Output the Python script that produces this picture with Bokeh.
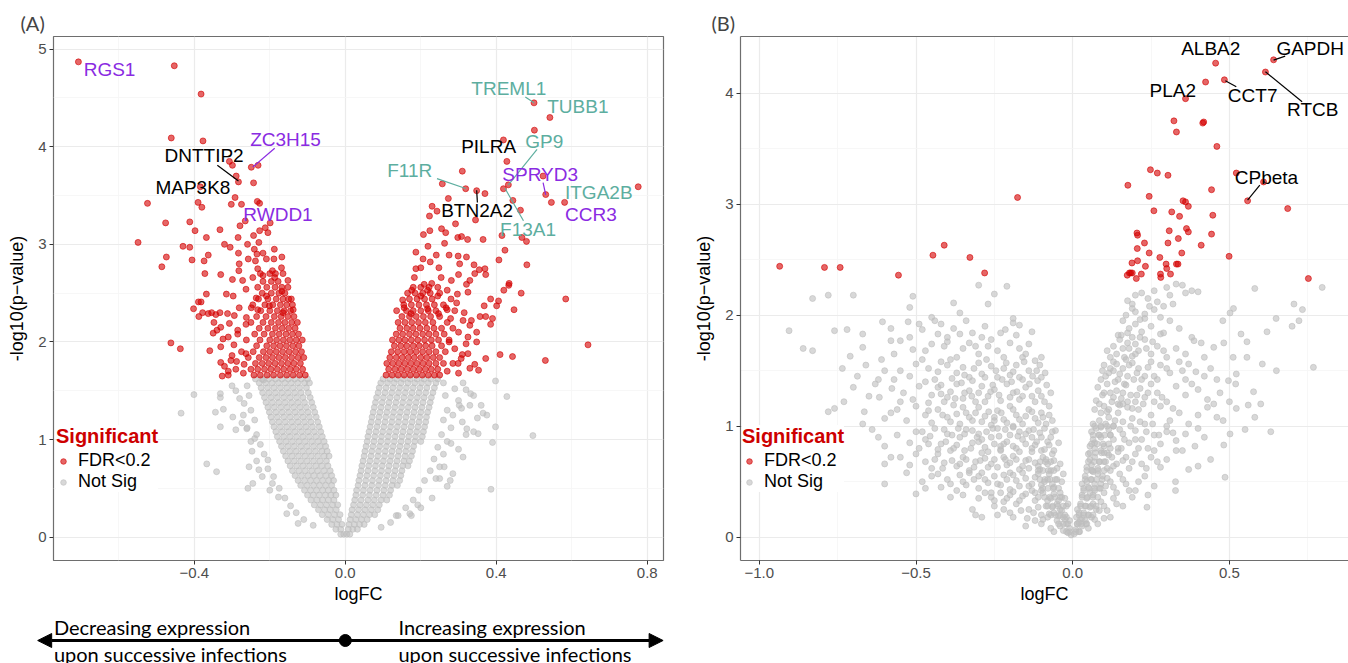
from bokeh.plotting import figure
from bokeh.layouts import row, column
from bokeh.models import (ColumnDataSource, Range1d, FixedTicker, Legend, LegendItem,
                          Arrow, NormalHead, LinearAxis)
from bokeh.embed import file_html
from bokeh.resources import INLINE
from bokeh.core.properties import value

FONT = "Liberation Sans"
SIG_COLOR = "#D40000"
NS_COLOR = "#BEBEBE"
PURPLE = "#8A2BE2"
TEAL = "#5DAE9F"

# ---------------- Panel A data ----------------
A_SIG_POINTS = [
    (-0.707, 4.87), (-0.453, 4.83), (-0.382, 4.54), (-0.461, 4.09), (-0.377, 4.06),
    (-0.307, 3.85), (-0.299, 3.81), (-0.249, 3.79), (-0.231, 3.81), (-0.283, 3.64), (-0.289, 3.70), (-0.243, 3.63), (-0.384, 3.59),
    (-0.292, 3.48), (-0.524, 3.42), (-0.390, 3.43), (-0.380, 3.38), (-0.302, 3.41), (-0.275, 3.41), (-0.233, 3.44), (-0.227, 3.42),
    (-0.476, 3.22), (-0.412, 3.23), (-0.279, 3.19), (-0.265, 3.24), (-0.212, 3.17), (-0.199, 3.22), (-0.398, 3.14), (-0.332, 3.15),
    (-0.227, 3.14), (-0.205, 3.12), (-0.243, 3.09), (-0.284, 3.07), (-0.549, 3.02), (-0.368, 3.07),
    (-0.430, 2.98), (-0.412, 2.97), (-0.320, 3.00), (-0.305, 2.97), (-0.259, 3.00), (-0.229, 3.02), (-0.241, 2.95), (-0.234, 2.90),
    (-0.218, 2.91), (-0.188, 2.95), (-0.474, 2.87), (-0.486, 2.77), (-0.406, 2.84), (-0.374, 2.83), (-0.363, 2.89), (-0.283, 2.91),
    (-0.257, 2.85), (-0.238, 2.83), (-0.209, 2.85), (-0.189, 2.85), (-0.168, 2.87), (-0.281, 2.80),
    (-0.372, 2.70), (-0.330, 2.69), (-0.282, 2.73), (-0.232, 2.75), (-0.193, 2.73), (-0.169, 2.76), (-0.299, 2.64), (-0.272, 2.63),
    (-0.245, 2.66), (-0.218, 2.68), (-0.187, 2.66), (-0.152, 2.63),
    (-0.368, 2.49), (-0.315, 2.49), (-0.297, 2.47), (-0.263, 2.54), (-0.236, 2.45), (-0.209, 2.47), (-0.168, 2.52), (-0.143, 2.44),
    (-0.382, 2.41), (-0.402, 2.34), (-0.388, 2.26), (-0.363, 2.29), (-0.343, 2.28), (-0.332, 2.30), (-0.312, 2.29), (-0.294, 2.27),
    (-0.281, 2.35), (-0.249, 2.35), (-0.232, 2.33), (-0.201, 2.37), (-0.165, 2.30), (-0.138, 2.33),
    (-0.348, 2.20), (-0.330, 2.15), (-0.307, 2.19), (-0.285, 2.08), (-0.263, 2.18), (-0.350, 2.09), (-0.324, 2.03), (-0.462, 1.99),
    (-0.437, 1.93), (-0.359, 1.91), (-0.330, 1.79), (-0.303, 1.81), (-0.288, 1.80), (-0.263, 1.88),
    (-0.326, 1.65), (-0.310, 1.66), (-0.389, 2.41), (-0.378, 2.30), (-0.354, 2.30),
    (-0.330, 1.95), (-0.310, 2.05), (-0.300, 1.86), (-0.290, 1.72), (-0.285, 2.12), (-0.275, 1.90), (-0.268, 1.77), (-0.262, 2.25),
    (-0.310, 1.70), (-0.295, 1.97), (-0.340, 2.12), (-0.320, 1.75), (-0.270, 1.68),
    (0.500, 4.45), (0.542, 4.30), (0.501, 4.17), (0.419, 4.07), (0.428, 3.85), (0.310, 3.75), (0.257, 3.62), (0.319, 3.57),
    (0.348, 3.55), (0.370, 3.52), (0.419, 3.57), (0.432, 3.61), (0.531, 3.51), (0.524, 3.70), (0.546, 3.43), (0.581, 3.43), (0.776, 3.59),
    (0.273, 3.47), (0.230, 3.39), (0.223, 3.29), (0.243, 3.34), (0.292, 3.21), (0.345, 3.25), (0.444, 3.45), (0.464, 3.35),
    (0.415, 3.09), (0.468, 3.07), (0.480, 3.03), (0.207, 3.10), (0.224, 3.14), (0.255, 3.16), (0.266, 3.12), (0.298, 3.07),
    (0.308, 3.08), (0.324, 3.05), (0.365, 3.05), (0.263, 3.01), (0.219, 2.98), (0.423, 2.94), (0.407, 2.84), (0.481, 2.79),
    (0.187, 2.92), (0.206, 2.85), (0.225, 2.82), (0.241, 2.89), (0.275, 2.89), (0.299, 2.88), (0.303, 2.80), (0.321, 2.87),
    (0.341, 2.79), (0.355, 2.74), (0.370, 2.75), (0.343, 2.70), (0.372, 2.69), (0.187, 2.75), (0.200, 2.76), (0.248, 2.76),
    (0.183, 2.66), (0.209, 2.59), (0.229, 2.60), (0.254, 2.66), (0.281, 2.63), (0.300, 2.69), (0.321, 2.59), (0.330, 2.63),
    (0.434, 2.60), (0.420, 2.53), (0.466, 2.50), (0.584, 2.44),
    (0.176, 2.53), (0.152, 2.43), (0.200, 2.47), (0.218, 2.53), (0.245, 2.47), (0.270, 2.53), (0.297, 2.49), (0.325, 2.51),
    (0.385, 2.44), (0.406, 2.42), (0.401, 2.37), (0.447, 2.33), (0.368, 2.37), (0.357, 2.26), (0.372, 2.26), (0.390, 2.24),
    (0.334, 2.22), (0.312, 2.22), (0.279, 2.24), (0.156, 2.35), (0.174, 2.29), (0.136, 2.32), (0.218, 2.34), (0.247, 2.29), (0.267, 2.35),
    (0.330, 2.17), (0.348, 2.10), (0.325, 2.05), (0.348, 2.00), (0.643, 1.97), (0.410, 1.87), (0.443, 1.85), (0.530, 1.81),
    (0.372, 1.83), (0.343, 1.77), (0.307, 1.83), (0.325, 1.88), (0.299, 1.78), (0.353, 1.71), (0.385, 2.18), (0.433, 2.58),
    (0.270, 1.70), (0.285, 1.78), (0.300, 1.68), (0.290, 1.93), (0.310, 1.87), (0.275, 2.00), (0.300, 2.10), (0.320, 1.98),
    (0.330, 1.73), (0.315, 2.30), (0.295, 2.40), (0.270, 2.33),
]

A_SIG_CORE_ROWS = [
    (1.66, [-0.242, -0.225, -0.207, -0.19, -0.172, -0.155, -0.138, -0.121, -0.106,
            0.108, 0.124, 0.14, 0.156, 0.172, 0.188, 0.204, 0.22, 0.236, 0.25]),
    (1.72, [-0.25, -0.232, -0.214, -0.197, -0.18, -0.163, -0.146, -0.13, -0.113,
            0.115, 0.132, 0.148, 0.164, 0.18, 0.196, 0.212, 0.228, 0.245]),
    (1.78, [-0.238, -0.22, -0.203, -0.186, -0.169, -0.152, -0.136, -0.119,
            0.11, 0.126, 0.142, 0.158, 0.174, 0.19, 0.206, 0.222, 0.24, 0.26]),
    (1.84, [-0.257, -0.228, -0.21, -0.193, -0.176, -0.159, -0.142, -0.125, -0.11,
            0.118, 0.135, 0.151, 0.167, 0.183, 0.2, 0.216, 0.233, 0.25]),
    (1.90, [-0.244, -0.217, -0.2, -0.183, -0.166, -0.149, -0.132, -0.116,
            0.122, 0.139, 0.156, 0.172, 0.188, 0.205, 0.222, 0.24, 0.265]),
    (1.96, [-0.235, -0.208, -0.19, -0.173, -0.156, -0.139, -0.123,
            0.13, 0.147, 0.163, 0.18, 0.196, 0.213, 0.23, 0.255]),
    (2.02, [-0.262, -0.226, -0.2, -0.182, -0.164, -0.147, -0.13, -0.114,
            0.125, 0.142, 0.158, 0.175, 0.192, 0.21, 0.228, 0.247, 0.275]),
    (2.08, [-0.24, -0.215, -0.193, -0.175, -0.157, -0.14, -0.124,
            0.135, 0.152, 0.17, 0.187, 0.205, 0.222, 0.24, 0.262]),
    (2.14, [-0.228, -0.205, -0.185, -0.167, -0.15, -0.133,
            0.145, 0.163, 0.18, 0.198, 0.216, 0.235, 0.255, 0.285]),
    (2.20, [-0.25, -0.218, -0.196, -0.177, -0.16, -0.142, -0.127,
            0.14, 0.158, 0.176, 0.194, 0.212, 0.232, 0.27]),
    (2.26, [-0.235, -0.21, -0.188, -0.17, -0.152, -0.136,
            0.15, 0.17, 0.188, 0.207, 0.226, 0.25]),
    (2.32, [-0.224, -0.2, -0.18, -0.162, -0.145,
            0.162, 0.18, 0.2, 0.22, 0.24, 0.29]),
    (2.38, [-0.245, -0.213, -0.192, -0.172, -0.155, -0.14,
            0.155, 0.175, 0.195, 0.215, 0.236, 0.26]),
    (2.44, [-0.23, -0.205, -0.183, -0.165, -0.15,
            0.17, 0.19, 0.21, 0.23, 0.28]),
    (2.50, [-0.22, -0.196, -0.176, -0.16,
            0.165, 0.185, 0.205, 0.225, 0.25]),
    (2.56, [-0.232, -0.208, -0.186, -0.168, -0.152,
            0.18, 0.2, 0.222, 0.245]),
    (2.62, [-0.218, -0.196, -0.178]),
    (2.70, [-0.225, -0.2, -0.185, -0.165]),
]

A_NS_CORE_ROWS = [
    (0.03, [-0.012, -0.004, 0.004, 0.012]),
    (0.08, [-0.025, -0.012, 0.008, 0.02, 0.032]),
    (0.13, [-0.036, -0.022, -0.009, 0.01, 0.024, 0.038, 0.05]),
    (0.18, [-0.048, -0.033, -0.018, 0.013, 0.028, 0.043, 0.058]),
    (0.23, [-0.061, -0.045, -0.029, -0.014, 0.016, 0.032, 0.048, 0.064, 0.078]),
    (0.28, [-0.071, -0.055, -0.04, -0.024, 0.018, 0.035, 0.052, 0.069, 0.086]),
    (0.33, [-0.082, -0.066, -0.05, -0.034, -0.02, 0.022, 0.039, 0.056, 0.073, 0.09]),
    (0.38, [-0.091, -0.075, -0.06, -0.045, -0.03, 0.025, 0.042, 0.06, 0.077, 0.095, 0.11]),
    (0.43, [-0.1, -0.085, -0.069, -0.053, -0.038, -0.025, 0.028, 0.046, 0.064, 0.082, 0.1, 0.117]),
    (0.48, [-0.108, -0.092, -0.076, -0.06, -0.045, -0.03, 0.03, 0.048, 0.066, 0.084, 0.102, 0.12]),
    (0.53, [-0.118, -0.101, -0.084, -0.068, -0.052, -0.036, 0.034, 0.052, 0.07, 0.088, 0.106, 0.124, 0.138]),
    (0.58, [-0.125, -0.108, -0.092, -0.076, -0.06, -0.044, -0.031, 0.036, 0.054, 0.072, 0.09, 0.108, 0.126, 0.144]),
    (0.63, [-0.133, -0.116, -0.099, -0.083, -0.067, -0.051, -0.036, 0.039, 0.057, 0.075, 0.093, 0.111, 0.129, 0.147]),
    (0.68, [-0.14, -0.123, -0.106, -0.089, -0.073, -0.056, -0.04, 0.042, 0.06, 0.078, 0.096, 0.114, 0.132, 0.15]),
    (0.73, [-0.146, -0.129, -0.112, -0.095, -0.078, -0.062, -0.046, 0.044, 0.062, 0.08, 0.098, 0.116, 0.134, 0.152, 0.166]),
    (0.78, [-0.152, -0.135, -0.118, -0.101, -0.084, -0.067, -0.05, 0.047, 0.065, 0.083, 0.101, 0.119, 0.137, 0.155, 0.17]),
    (0.83, [-0.158, -0.141, -0.124, -0.107, -0.09, -0.073, -0.056, -0.043, 0.05, 0.068, 0.086, 0.104, 0.122, 0.14, 0.158, 0.175]),
    (0.88, [-0.164, -0.147, -0.13, -0.113, -0.096, -0.079, -0.062, -0.048, 0.052, 0.07, 0.088, 0.106, 0.124, 0.142, 0.16, 0.178]),
    (0.93, [-0.169, -0.152, -0.135, -0.118, -0.101, -0.084, -0.067, -0.052, 0.055, 0.073, 0.091, 0.109, 0.127, 0.145, 0.163, 0.181]),
    (0.98, [-0.174, -0.157, -0.14, -0.123, -0.106, -0.089, -0.072, -0.056, 0.058, 0.076, 0.094, 0.112, 0.13, 0.148, 0.166, 0.184, 0.2]),
    (1.03, [-0.18, -0.163, -0.146, -0.129, -0.112, -0.095, -0.078, -0.061, 0.06, 0.078, 0.096, 0.114, 0.132, 0.15, 0.168, 0.186, 0.204]),
    (1.08, [-0.184, -0.167, -0.15, -0.133, -0.116, -0.099, -0.082, -0.065, 0.063, 0.081, 0.099, 0.117, 0.135, 0.153, 0.171, 0.189, 0.207]),
    (1.13, [-0.189, -0.172, -0.155, -0.138, -0.121, -0.104, -0.087, -0.069, 0.066, 0.084, 0.102, 0.12, 0.138, 0.156, 0.174, 0.192, 0.21]),
    (1.18, [-0.193, -0.176, -0.159, -0.142, -0.125, -0.108, -0.091, -0.073, 0.069, 0.087, 0.105, 0.123, 0.141, 0.159, 0.177, 0.195, 0.213]),
    (1.23, [-0.197, -0.18, -0.163, -0.146, -0.129, -0.112, -0.095, -0.077, 0.071, 0.089, 0.107, 0.125, 0.143, 0.161, 0.179, 0.197, 0.215]),
    (1.28, [-0.201, -0.184, -0.167, -0.15, -0.133, -0.116, -0.099, -0.081, 0.074, 0.092, 0.11, 0.128, 0.146, 0.164, 0.182, 0.2, 0.218]),
    (1.33, [-0.205, -0.188, -0.171, -0.154, -0.137, -0.12, -0.103, -0.085, 0.077, 0.095, 0.113, 0.131, 0.149, 0.167, 0.185, 0.203, 0.222]),
    (1.38, [-0.21, -0.193, -0.176, -0.159, -0.142, -0.125, -0.108, -0.089, 0.08, 0.098, 0.116, 0.134, 0.152, 0.17, 0.188, 0.206, 0.225]),
    (1.43, [-0.214, -0.197, -0.18, -0.163, -0.146, -0.129, -0.112, -0.093, 0.083, 0.101, 0.119, 0.137, 0.155, 0.173, 0.191, 0.209, 0.228]),
    (1.48, [-0.219, -0.202, -0.185, -0.168, -0.151, -0.134, -0.117, -0.098, 0.087, 0.105, 0.123, 0.141, 0.159, 0.177, 0.195, 0.213, 0.232]),
    (1.53, [-0.223, -0.206, -0.189, -0.172, -0.155, -0.138, -0.121, -0.103, 0.09, 0.108, 0.126, 0.144, 0.162, 0.18, 0.198, 0.216, 0.236]),
    (1.58, [-0.228, -0.211, -0.194, -0.177, -0.16, -0.143, -0.126, -0.108, -0.095, 0.094, 0.112, 0.13, 0.148, 0.166, 0.184, 0.202, 0.22, 0.24]),
    (1.62, [-0.238, -0.221, -0.203, -0.185, -0.168, -0.151, -0.134, -0.117, -0.1, 0.1, 0.118, 0.136, 0.154, 0.172, 0.19, 0.208, 0.226, 0.245]),
]

A_NS_POINTS = [
    (-0.401, 1.46), (-0.435, 1.27), (-0.331, 1.47), (-0.331, 1.43), (-0.344, 1.28), (-0.323, 1.31), (-0.298, 1.23), (-0.331, 1.13),
    (-0.367, 0.75), (-0.341, 0.67), (-0.258, 0.50), (-0.155, 0.24), (-0.300, 1.55), (-0.290, 1.50), (-0.268, 1.37), (-0.274, 1.17),
    (-0.261, 1.11), (-0.247, 0.88), (-0.240, 1.01), (-0.255, 0.72), (-0.229, 0.69), (-0.205, 0.79), (-0.193, 0.55), (-0.177, 0.41),
    (-0.125, 0.14), (-0.217, 1.61), (-0.260, 1.55), (-0.255, 1.45), (-0.250, 1.30), (-0.240, 1.20), (-0.235, 1.05), (-0.225, 0.95),
    (-0.215, 0.85), (-0.205, 0.70), (-0.190, 0.62), (-0.175, 0.50), (-0.160, 0.40), (-0.145, 0.32), (-0.130, 0.25), (-0.110, 0.18),
    (-0.085, 0.12), (-0.280, 1.42), (-0.270, 1.25), (-0.260, 1.12), (-0.250, 0.98), (-0.235, 0.78), (-0.220, 0.62), (-0.200, 0.48),
    (-0.290, 1.10), (-0.245, 0.55),
    (0.398, 1.60), (0.428, 1.44), (0.497, 1.04), (0.386, 0.49), (0.398, 1.13), (0.390, 0.97), (0.340, 1.08), (0.352, 1.06),
    (0.365, 1.27), (0.375, 1.25), (0.332, 1.47), (0.312, 1.58), (0.320, 1.51), (0.302, 1.35), (0.308, 1.32), (0.280, 0.96),
    (0.312, 0.82), (0.262, 0.72), (0.250, 0.72), (0.278, 0.58), (0.192, 0.33), (0.171, 0.24), (0.135, 0.22), (0.322, 1.11),
    (0.260, 1.58), (0.265, 1.45), (0.270, 1.30), (0.260, 1.20), (0.255, 1.05), (0.245, 0.92), (0.235, 0.80), (0.225, 0.68),
    (0.210, 0.58), (0.195, 0.48), (0.180, 0.38), (0.160, 0.30), (0.140, 0.22), (0.120, 0.15), (0.095, 0.10), (0.290, 1.52),
    (0.300, 1.40), (0.285, 1.25), (0.280, 1.12), (0.270, 0.98), (0.260, 0.85), (0.250, 0.60), (0.240, 0.60), (0.310, 1.18),
    (0.300, 0.90), (0.320, 1.05), (0.330, 1.35), (0.340, 1.45), (0.350, 1.22), (0.360, 1.35), (0.285, 0.65), (0.270, 0.52),
    (0.230, 0.40), (0.200, 0.30), (0.175, 0.22),
]

# gene labels, panel A
A_LABEL_TEXT = ["RGS1", "ZC3H15", "DNTTIP2", "MAP3K8", "RWDD1", "TREML1", "TUBB1", "PILRA",
                "GP9", "F11R", "SPRYD3", "ITGA2B", "BTN2A2", "CCR3", "F13A1"]
A_LABEL_X = [-0.693, -0.252, -0.479, -0.503, -0.270, 0.334, 0.535, 0.307,
             0.477, 0.111, 0.416, 0.582, 0.254, 0.582, 0.410]
A_LABEL_Y = [4.795, 4.07, 3.906, 3.584, 3.303, 4.596, 4.412, 3.998,
             4.054, 3.753, 3.719, 3.528, 3.344, 3.303, 3.149]
A_LABEL_COLOR = [PURPLE, PURPLE, "black", "black", PURPLE, TEAL, TEAL, "black",
                 TEAL, TEAL, PURPLE, TEAL, "black", PURPLE, TEAL]
# leader lines, panel A
A_SEG_X0 = [-0.187, -0.339, 0.477, 0.508, 0.243, 0.524, 0.348, 0.472]
A_SEG_Y0 = [3.985, 3.811, 4.509, 3.974, 3.674, 3.633, 3.555, 3.241]
A_SEG_X1 = [-0.245, -0.283, 0.500, 0.432, 0.319, 0.531, 0.350, 0.423]
A_SEG_Y1 = [3.793, 3.650, 4.451, 3.609, 3.572, 3.507, 3.428, 3.575]
A_SEG_COLOR = [PURPLE, "black", TEAL, TEAL, TEAL, PURPLE, "black", TEAL]

A_X_TICKS = [-0.4, 0.0, 0.4, 0.8]
A_X_LABELS = ["\u22120.4", "0.0", "0.4", "0.8"]
A_X_MINOR = [-0.6, -0.2, 0.2, 0.6]
A_Y_TICKS = [0, 1, 2, 3, 4, 5]
A_Y_MINOR = [0.5, 1.5, 2.5, 3.5, 4.5]

# ---------------- Panel B data ----------------
B_SIG_POINTS = [
    (0.641, 4.30), (0.615, 4.19), (0.456, 4.27), (0.484, 4.12), (0.424, 4.10), (0.360, 3.95), (0.323, 3.75), (0.418, 3.74),
    (0.415, 3.73), (0.331, 3.65), (0.460, 3.52), (0.522, 3.28), (0.609, 3.20), (0.558, 3.03), (0.686, 2.96), (0.752, 2.33),
    (0.499, 2.53), (0.248, 3.31), (0.270, 3.28), (0.304, 3.26), (0.176, 3.17), (0.443, 3.13), (0.244, 3.07), (0.352, 3.03),
    (0.360, 3.02), (0.369, 2.98), (0.259, 2.94), (0.316, 2.93), (0.341, 2.89), (0.447, 2.90), (0.205, 2.74), (0.207, 2.72),
    (0.308, 2.76), (0.363, 2.78), (0.369, 2.75), (0.443, 2.73), (0.229, 2.65), (0.304, 2.65), (0.337, 2.69), (0.410, 2.63),
    (0.206, 2.60), (0.244, 2.56), (0.348, 2.56), (0.278, 2.52), (0.189, 2.47), (0.207, 2.49), (0.232, 2.44), (0.298, 2.46),
    (0.331, 2.46), (0.336, 2.46), (0.300, 2.42), (0.181, 2.38), (0.185, 2.38), (0.190, 2.38), (0.203, 2.33), (0.219, 2.37),
    (0.280, 2.37), (0.281, 2.34), (0.312, 2.37), (0.174, 2.36),
    (-0.176, 3.06), (-0.935, 2.44), (-0.792, 2.43), (-0.742, 2.43), (-0.556, 2.36), (-0.446, 2.54), (-0.410, 2.63),
    (-0.328, 2.52), (-0.281, 2.38),
]

B_NS_POINTS = [
    # left cloud
    (-0.83, 2.15), (-0.78, 2.18), (-0.70, 2.18), (-0.51, 2.17), (-0.30, 2.27), (-0.25, 2.19), (-0.21, 2.26),
    (-0.52, 2.07), (-0.45, 1.98), (-0.38, 2.11), (-0.36, 2.02), (-0.27, 2.10), (-0.19, 1.97), (-0.17, 1.91), (-0.607, 1.94),
    (-0.905, 1.86), (-0.76, 1.86), (-0.72, 1.87), (-0.67, 1.83), (-0.525, 1.94), (-0.49, 1.92), (-0.48, 1.87), (-0.42, 1.92),
    (-0.38, 1.88), (-0.36, 1.83), (-0.40, 1.80), (-0.44, 1.95), (-0.215, 1.87), (-0.19, 1.93), (-0.13, 1.85), (-0.32, 1.84), (-0.29, 1.80),
    (-0.86, 1.70), (-0.83, 1.68), (-0.67, 1.71), (-0.71, 1.63), (-0.58, 1.77), (-0.55, 1.77), (-0.57, 1.65), (-0.51, 1.69),
    (-0.45, 1.74), (-0.40, 1.76), (-0.41, 1.72), (-0.48, 1.60), (-0.61, 1.60), (-0.35, 1.70), (-0.33, 1.75), (-0.30, 1.65),
    (-0.27, 1.72), (-0.24, 1.68), (-0.20, 1.75), (-0.17, 1.70), (-0.14, 1.74), (-0.12, 1.59), (-0.22, 1.62), (-0.16, 1.62), (-0.37, 1.62),
    (-0.735, 1.52), (-0.687, 1.45), (-0.55, 1.50), (-0.52, 1.45), (-0.46, 1.52), (-0.44, 1.42), (-0.40, 1.55), (-0.37, 1.48),
    (-0.35, 1.53), (-0.33, 1.44), (-0.30, 1.57), (-0.29, 1.47), (-0.26, 1.54), (-0.24, 1.44), (-0.22, 1.52), (-0.20, 1.46),
    (-0.18, 1.55), (-0.16, 1.42), (-0.14, 1.50), (-0.115, 1.50), (-0.10, 1.44), (-0.62, 1.42), (-0.50, 1.56), (-0.42, 1.58),
    (-0.73, 1.22), (-0.63, 1.38), (-0.65, 1.27), (-0.617, 1.26), (-0.577, 1.34), (-0.54, 1.30), (-0.51, 1.24), (-0.49, 1.36),
    (-0.45, 1.28), (-0.43, 1.35), (-0.41, 1.22), (-0.39, 1.31), (-0.37, 1.38), (-0.35, 1.25), (-0.33, 1.32), (-0.31, 1.22),
    (-0.29, 1.36), (-0.27, 1.27), (-0.25, 1.33), (-0.23, 1.23), (-0.21, 1.38), (-0.19, 1.30), (-0.17, 1.24), (-0.15, 1.35),
    (-0.13, 1.27), (-0.11, 1.32), (-0.09, 1.22), (-0.30, 1.30), (-0.40, 1.26),
    (-0.78, 1.13), (-0.76, 1.16), (-0.665, 1.13), (-0.67, 1.02), (-0.60, 1.07), (-0.56, 1.15), (-0.53, 1.05), (-0.50, 1.18),
    (-0.47, 1.10), (-0.45, 1.03), (-0.43, 1.15), (-0.40, 1.08), (-0.38, 1.19), (-0.36, 1.02), (-0.34, 1.12), (-0.32, 1.05),
    (-0.30, 1.17), (-0.28, 1.09), (-0.26, 1.01), (-0.24, 1.14), (-0.22, 1.06), (-0.20, 1.18), (-0.18, 1.10), (-0.16, 1.02),
    (-0.14, 1.15), (-0.12, 1.07), (-0.10, 1.12), (-0.085, 1.02), (-0.35, 1.17), (-0.25, 1.05), (-0.19, 1.00),
    (-0.62, 0.90), (-0.60, 0.82), (-0.52, 0.85), (-0.50, 0.95), (-0.47, 0.88), (-0.44, 0.98), (-0.42, 0.84), (-0.40, 0.93),
    (-0.38, 0.80), (-0.36, 0.90), (-0.34, 0.97), (-0.32, 0.85), (-0.30, 0.93), (-0.28, 0.81), (-0.26, 0.90), (-0.24, 0.98),
    (-0.22, 0.84), (-0.20, 0.92), (-0.18, 0.80), (-0.16, 0.88), (-0.14, 0.96), (-0.12, 0.83), (-0.10, 0.90), (-0.08, 0.86),
    (-0.065, 0.95), (-0.29, 0.88), (-0.23, 0.82), (-0.17, 0.95), (-0.13, 0.90),
    (-0.60, 0.66), (-0.58, 0.72), (-0.50, 0.75), (-0.47, 0.68), (-0.45, 0.62), (-0.43, 0.75), (-0.41, 0.67), (-0.39, 0.78),
    (-0.37, 0.64), (-0.35, 0.72), (-0.33, 0.60), (-0.31, 0.68), (-0.29, 0.76), (-0.27, 0.63), (-0.25, 0.70), (-0.23, 0.78),
    (-0.21, 0.65), (-0.19, 0.73), (-0.17, 0.61), (-0.15, 0.69), (-0.13, 0.77), (-0.11, 0.64), (-0.095, 0.72), (-0.08, 0.66),
    (-0.065, 0.75), (-0.05, 0.62), (-0.22, 0.72), (-0.14, 0.62), (-0.10, 0.78), (-0.07, 0.60),
    (-0.60, 0.48), (-0.50, 0.39), (-0.45, 0.55), (-0.42, 0.45), (-0.40, 0.52), (-0.37, 0.42), (-0.35, 0.50), (-0.33, 0.58),
    (-0.30, 0.44), (-0.28, 0.52), (-0.26, 0.40), (-0.24, 0.48), (-0.22, 0.56), (-0.20, 0.43), (-0.18, 0.51), (-0.16, 0.58),
    (-0.14, 0.46), (-0.12, 0.54), (-0.10, 0.42), (-0.09, 0.50), (-0.075, 0.57), (-0.06, 0.45), (-0.05, 0.52), (-0.04, 0.40),
    (-0.30, 0.55), (-0.20, 0.58), (-0.12, 0.40),
    (-0.32, 0.25), (-0.31, 0.20), (-0.29, 0.18), (-0.25, 0.28), (-0.22, 0.32), (-0.20, 0.22), (-0.18, 0.30), (-0.16, 0.37),
    (-0.14, 0.25), (-0.12, 0.33), (-0.10, 0.20), (-0.085, 0.28), (-0.07, 0.35), (-0.06, 0.22), (-0.05, 0.30), (-0.04, 0.25),
    (-0.035, 0.36), (-0.03, 0.18), (-0.02, 0.28), (-0.20, 0.38), (-0.26, 0.36), (-0.24, 0.20),
    (-0.15, 0.10), (-0.10, 0.12), (-0.07, 0.08), (-0.05, 0.15), (-0.04, 0.10), (-0.03, 0.06), (-0.02, 0.12), (-0.015, 0.04),
    (-0.01, 0.08), (-0.005, 0.02), (-0.06, 0.05), (-0.025, 0.16), (-0.08, 0.18), (-0.12, 0.15),
    # extra density, left cloud
    (-0.43, 1.49), (-0.39, 1.60), (-0.345, 1.46), (-0.315, 1.52), (-0.275, 1.60), (-0.245, 1.50), (-0.212, 1.57), (-0.19, 1.49),
    (-0.155, 1.58), (-0.128, 1.45), (-0.105, 1.55), (-0.088, 1.48),
    (-0.47, 1.40), (-0.42, 1.37), (-0.385, 1.43), (-0.355, 1.39), (-0.32, 1.41), (-0.28, 1.44), (-0.255, 1.37), (-0.225, 1.42),
    (-0.195, 1.40), (-0.17, 1.44), (-0.138, 1.38), (-0.112, 1.41), (-0.083, 1.37), (-0.07, 1.30),
    (-0.46, 1.21), (-0.42, 1.29), (-0.375, 1.25), (-0.345, 1.30), (-0.322, 1.27), (-0.28, 1.22), (-0.262, 1.31), (-0.235, 1.28),
    (-0.20, 1.26), (-0.178, 1.31), (-0.16, 1.27), (-0.12, 1.22), (-0.10, 1.27), (-0.075, 1.18),
    (-0.46, 1.14), (-0.415, 1.10), (-0.39, 1.04), (-0.37, 1.11), (-0.33, 1.08), (-0.31, 1.12), (-0.29, 1.04), (-0.268, 1.13),
    (-0.25, 1.08), (-0.228, 1.12), (-0.21, 1.03), (-0.19, 1.15), (-0.17, 1.06), (-0.15, 1.09), (-0.13, 1.13), (-0.11, 1.03),
    (-0.095, 1.08), (-0.075, 1.10), (-0.065, 1.05),
    (-0.48, 0.95), (-0.455, 0.91), (-0.41, 0.97), (-0.385, 0.92), (-0.365, 0.98), (-0.345, 0.93), (-0.32, 0.96), (-0.305, 0.90),
    (-0.275, 0.95), (-0.255, 0.98), (-0.235, 0.91), (-0.215, 0.97), (-0.19, 0.99), (-0.175, 0.91), (-0.15, 0.93), (-0.125, 0.97),
    (-0.105, 0.94), (-0.09, 0.98), (-0.07, 0.90), (-0.055, 0.96),
    (-0.49, 0.80), (-0.46, 0.84), (-0.43, 0.79), (-0.405, 0.86), (-0.37, 0.83), (-0.345, 0.78), (-0.325, 0.80), (-0.30, 0.86),
    (-0.27, 0.77), (-0.25, 0.84), (-0.23, 0.79), (-0.21, 0.86), (-0.19, 0.82), (-0.17, 0.77), (-0.15, 0.84), (-0.13, 0.80),
    (-0.115, 0.86), (-0.09, 0.79), (-0.075, 0.83), (-0.06, 0.78), (-0.045, 0.85),
    (-0.52, 0.65), (-0.44, 0.70), (-0.415, 0.62), (-0.385, 0.69), (-0.36, 0.66), (-0.34, 0.70), (-0.315, 0.63), (-0.295, 0.69),
    (-0.28, 0.71), (-0.26, 0.66), (-0.24, 0.63), (-0.215, 0.70), (-0.20, 0.67), (-0.18, 0.70), (-0.16, 0.64), (-0.14, 0.70),
    (-0.12, 0.67), (-0.105, 0.61), (-0.085, 0.70), (-0.06, 0.69), (-0.04, 0.66),
    (-0.48, 0.50), (-0.43, 0.57), (-0.39, 0.48), (-0.36, 0.56), (-0.34, 0.47), (-0.315, 0.52), (-0.29, 0.58), (-0.27, 0.49),
    (-0.25, 0.55), (-0.23, 0.47), (-0.21, 0.52), (-0.19, 0.56), (-0.17, 0.46), (-0.15, 0.53), (-0.13, 0.48), (-0.11, 0.57),
    (-0.10, 0.47), (-0.08, 0.52), (-0.065, 0.48), (-0.035, 0.50), (-0.03, 0.57),
    (-0.35, 0.38), (-0.30, 0.35), (-0.28, 0.40), (-0.25, 0.33), (-0.23, 0.40), (-0.21, 0.35), (-0.19, 0.41), (-0.17, 0.33),
    (-0.15, 0.39), (-0.13, 0.42), (-0.11, 0.36), (-0.095, 0.40), (-0.08, 0.33), (-0.06, 0.39), (-0.045, 0.33), (-0.025, 0.35),
    (-0.015, 0.30),
    (-0.22, 0.25), (-0.19, 0.18), (-0.165, 0.24), (-0.145, 0.17), (-0.125, 0.22), (-0.11, 0.27), (-0.095, 0.16), (-0.075, 0.21),
    (-0.065, 0.27), (-0.045, 0.19), (-0.035, 0.24), (-0.02, 0.18), (-0.01, 0.15),
    (-0.58, 1.88), (-0.52, 1.80), (-0.47, 1.68), (-0.43, 1.83), (-0.34, 1.95), (-0.31, 1.72), (-0.28, 1.90), (-0.26, 1.78),
    (-0.23, 1.84), (-0.18, 1.82), (-0.15, 1.65), (-0.10, 1.62), (-0.66, 1.55), (-0.60, 1.50), (-0.57, 1.42), (-0.70, 1.35),
    (-0.55, 1.22), (-0.58, 1.12), (-0.64, 0.97), (-0.56, 0.92), (-0.55, 0.72), (-0.53, 0.58), (-0.47, 0.44), (-0.39, 0.36),
    # right cloud
    (0.796, 2.25), (0.581, 2.24), (0.706, 2.10), (0.733, 2.05), (0.513, 2.06), (0.502, 2.02), (0.22, 2.20), (0.24, 2.15),
    (0.27, 2.12), (0.30, 2.25), (0.33, 2.28), (0.36, 2.20), (0.38, 2.22), (0.40, 2.21), (0.35, 2.27), (0.31, 2.18),
    (0.26, 2.05), (0.23, 2.01), (0.19, 2.10), (0.20, 2.03), (0.29, 2.08), (0.17, 2.00),
    (0.722, 1.95), (0.649, 1.97), (0.479, 1.95), (0.16, 1.95), (0.18, 1.88), (0.20, 1.92), (0.22, 1.85), (0.25, 1.90),
    (0.28, 1.83), (0.31, 1.95), (0.34, 1.88), (0.38, 1.80), (0.155, 1.82), (0.537, 1.83), (0.19, 1.80), (0.23, 1.97),
    (0.556, 1.76), (0.482, 1.75), (0.45, 1.71), (0.387, 1.77), (0.512, 1.62), (0.556, 1.62), (0.14, 1.65), (0.16, 1.70),
    (0.175, 1.75), (0.19, 1.63), (0.21, 1.68), (0.23, 1.78), (0.25, 1.65), (0.27, 1.72), (0.30, 1.62), (0.33, 1.70),
    (0.36, 1.65), (0.12, 1.62), (0.15, 1.78), (0.20, 1.74),
    (0.768, 1.53), (0.605, 1.56), (0.522, 1.47), (0.497, 1.41), (0.393, 1.49), (0.10, 1.55), (0.115, 1.48), (0.13, 1.58),
    (0.145, 1.42), (0.16, 1.52), (0.175, 1.45), (0.19, 1.57), (0.205, 1.48), (0.22, 1.42), (0.24, 1.53), (0.26, 1.45),
    (0.28, 1.55), (0.31, 1.48), (0.34, 1.58), (0.35, 1.50), (0.37, 1.56), (0.42, 1.45), (0.44, 1.52), (0.09, 1.42),
    (0.13, 1.50), (0.17, 1.60),
    (0.577, 1.31), (0.08, 1.35), (0.095, 1.28), (0.11, 1.38), (0.125, 1.22), (0.14, 1.32), (0.155, 1.25), (0.17, 1.37),
    (0.185, 1.28), (0.20, 1.22), (0.215, 1.34), (0.23, 1.26), (0.25, 1.38), (0.27, 1.30), (0.30, 1.22), (0.33, 1.36),
    (0.36, 1.28), (0.40, 1.33), (0.43, 1.24), (0.47, 1.30), (0.52, 1.38), (0.075, 1.23), (0.12, 1.30), (0.16, 1.20),
    (0.56, 1.19), (0.581, 1.08), (0.522, 1.16), (0.46, 1.08), (0.07, 1.15), (0.085, 1.05), (0.10, 1.18), (0.115, 1.08),
    (0.13, 1.00), (0.145, 1.12), (0.16, 1.04), (0.175, 1.17), (0.19, 1.07), (0.21, 1.15), (0.23, 1.02), (0.25, 1.10),
    (0.28, 1.18), (0.31, 1.05), (0.34, 1.12), (0.37, 1.02), (0.40, 1.10), (0.43, 1.17), (0.065, 1.02), (0.11, 1.13), (0.15, 1.19),
    (0.632, 0.95), (0.502, 0.93), (0.482, 0.83), (0.06, 0.95), (0.07, 0.85), (0.085, 0.92), (0.10, 0.82), (0.115, 0.97),
    (0.13, 0.88), (0.145, 0.80), (0.16, 0.93), (0.18, 0.85), (0.20, 0.96), (0.22, 0.88), (0.24, 0.80), (0.26, 0.92),
    (0.28, 0.84), (0.30, 0.95), (0.33, 0.87), (0.36, 0.93), (0.39, 0.82), (0.42, 0.90), (0.055, 0.82), (0.09, 0.99),
    (0.05, 0.75), (0.06, 0.65), (0.07, 0.72), (0.08, 0.62), (0.09, 0.78), (0.10, 0.68), (0.115, 0.74), (0.13, 0.64),
    (0.145, 0.77), (0.16, 0.69), (0.18, 0.62), (0.20, 0.75), (0.22, 0.66), (0.25, 0.72), (0.28, 0.63), (0.30, 0.70),
    (0.33, 0.78), (0.40, 0.64), (0.37, 0.61), (0.045, 0.63), (0.12, 0.80),
    (0.486, 0.54), (0.328, 0.50), (0.328, 0.42), (0.04, 0.55), (0.05, 0.45), (0.06, 0.52), (0.07, 0.42), (0.08, 0.57),
    (0.09, 0.48), (0.10, 0.40), (0.11, 0.53), (0.13, 0.45), (0.15, 0.57), (0.17, 0.48), (0.20, 0.42), (0.23, 0.55),
    (0.26, 0.46), (0.035, 0.42), (0.065, 0.59), (0.12, 0.60),
    (0.237, 0.27), (0.025, 0.30), (0.035, 0.22), (0.045, 0.35), (0.055, 0.27), (0.065, 0.38), (0.075, 0.25), (0.09, 0.32),
    (0.11, 0.24), (0.13, 0.35), (0.16, 0.28), (0.19, 0.36), (0.03, 0.38), (0.02, 0.22),
    (0.005, 0.03), (0.01, 0.07), (0.015, 0.12), (0.02, 0.05), (0.025, 0.16), (0.03, 0.10), (0.04, 0.15), (0.05, 0.08),
    (0.06, 0.18), (0.08, 0.12), (0.10, 0.17), (0.012, 0.18),
    # extra density, right band
    (0.175, 2.13), (0.20, 2.18), (0.215, 1.96), (0.245, 2.08), (0.26, 2.22), (0.28, 1.98), (0.32, 2.10), (0.19, 2.06),
    (0.13, 1.72), (0.145, 1.82), (0.165, 1.62), (0.18, 1.70), (0.20, 1.65), (0.215, 1.80), (0.235, 1.70), (0.255, 1.76),
    (0.29, 1.68), (0.11, 1.68), (0.175, 1.84),
    (0.105, 1.45), (0.12, 1.52), (0.135, 1.40), (0.15, 1.47), (0.165, 1.38), (0.18, 1.55), (0.195, 1.42), (0.21, 1.52),
    (0.23, 1.45), (0.25, 1.58), (0.27, 1.42), (0.30, 1.52), (0.095, 1.50), (0.14, 1.56),
    (0.085, 1.20), (0.10, 1.30), (0.115, 1.15), (0.13, 1.26), (0.145, 1.20), (0.16, 1.30), (0.175, 1.22), (0.19, 1.16),
    (0.205, 1.28), (0.225, 1.20), (0.24, 1.30), (0.26, 1.22), (0.285, 1.26), (0.32, 1.16), (0.09, 1.12),
    (0.075, 0.98), (0.09, 0.90), (0.105, 1.02), (0.12, 0.92), (0.135, 1.05), (0.15, 0.97), (0.165, 0.88), (0.185, 1.00),
    (0.20, 0.88), (0.215, 1.04), (0.235, 0.95), (0.255, 1.02), (0.275, 0.92), (0.30, 1.00), (0.32, 0.94), (0.065, 0.88),
    (0.055, 0.70), (0.07, 0.80), (0.085, 0.68), (0.10, 0.76), (0.11, 0.62), (0.125, 0.72), (0.14, 0.66), (0.155, 0.80),
    (0.17, 0.72), (0.19, 0.68), (0.21, 0.80), (0.235, 0.62), (0.26, 0.78), (0.27, 0.68), (0.06, 0.60),
    (0.045, 0.50), (0.055, 0.40), (0.07, 0.48), (0.085, 0.44), (0.095, 0.55), (0.105, 0.46), (0.12, 0.50), (0.14, 0.40),
    (0.16, 0.52), (0.18, 0.42), (0.21, 0.50), (0.24, 0.38), (0.03, 0.48),
    (0.015, 0.25), (0.03, 0.17), (0.04, 0.28), (0.05, 0.20), (0.065, 0.30), (0.07, 0.16), (0.085, 0.24), (0.10, 0.28),
    (0.12, 0.18), (0.14, 0.30), (0.045, 0.12), (0.02, 0.13),
    (0.42, 1.62), (0.46, 1.42), (0.50, 1.22), (0.45, 1.20), (0.40, 0.98), (0.38, 1.38), (0.48, 1.05), (0.35, 0.78),
    (0.36, 1.42), (0.41, 1.75), (0.29, 1.84), (0.44, 0.70), (0.55, 0.97), (0.60, 1.20), (0.65, 1.50), (0.62, 1.85), (0.70, 1.90),
]

B_NS_CORE_ROWS = [
    (0.05, [-0.01, -0.02, 0.01, 0.022]),
    (0.12, [-0.015, -0.03, -0.045, 0.014, 0.028, 0.042]),
    (0.20, [-0.025, -0.04, -0.055, -0.07, 0.02, 0.035, 0.05, 0.065]),
    (0.28, [-0.03, -0.047, -0.064, -0.08, 0.025, 0.042, 0.058, 0.075]),
    (0.36, [-0.04, -0.057, -0.074, -0.09, 0.03, 0.047, 0.064, 0.08]),
    (0.44, [-0.045, -0.062, -0.079, -0.096, 0.035, 0.052, 0.07, 0.088]),
    (0.52, [-0.055, -0.072, -0.089, -0.105, 0.04, 0.058, 0.076, 0.094]),
    (0.60, [-0.06, -0.078, -0.095, -0.11, 0.045, 0.063, 0.081, 0.10]),
    (0.68, [-0.07, -0.087, -0.104, 0.05, 0.068, 0.086, 0.105]),
    (0.76, [0.055, 0.073, 0.092, 0.11]),
    (0.84, [0.06, 0.078, 0.097, 0.115]),
    (0.92, [0.065, 0.083, 0.102, 0.12]),
    (1.00, [0.07, 0.09, 0.11, 0.13]),
]

B_LABEL_TEXT = ["ALBA2", "GAPDH", "PLA2", "CCT7", "RTCB", "CPbeta"]
B_LABEL_X = [0.346, 0.650, 0.245, 0.495, 0.684, 0.517]
B_LABEL_Y = [4.398, 4.398, 4.027, 3.975, 3.856, 3.243]
B_SEG_X0 = [0.641, 0.487, 0.615, 0.558]
B_SEG_Y0 = [4.297, 4.111, 4.192, 3.036]
B_SEG_X1 = [0.678, 0.522, 0.732, 0.597]
B_SEG_Y1 = [4.333, 4.057, 3.922, 3.171]

B_X_TICKS = [-1.0, -0.5, 0.0, 0.5]
B_X_LABELS = ["\u22121.0", "\u22120.5", "0.0", "0.5"]
B_X_MINOR = [-0.75, -0.25, 0.25, 0.75]
B_Y_TICKS = [0, 1, 2, 3, 4]
B_Y_MINOR = [0.5, 1.5, 2.5, 3.5]

# bottom annotation (panel A)
ARROW_TEXT = ["Decreasing expression", "upon successive infections",
              "Increasing expression", "upon successive infections"]
ARROW_TEXT_X = [-0.773, -0.773, 0.141, 0.141]
ARROW_TEXT_Y = [36.5, 9.5, 36.5, 9.5]
ARROW_X = (-0.816, 0.843)
ARROW_Y = 23.0
ARROW_DOT_X = [0.0]


def flatten(points=None, rows=None):
    xs, ys = [], []
    if points:
        for x, y in points:
            xs.append(x)
            ys.append(y)
    if rows:
        for y, rx in rows:
            for x in rx:
                xs.append(x)
                ys.append(y)
    return xs, ys


def no_align(p):
    if "frame_align" in p.properties():
        p.frame_align = False


def style_panel(p, xt, xl, xm, yt, ym):
    p.background_fill_color = "white"
    p.border_fill_color = "white"
    p.xaxis.ticker = FixedTicker(ticks=xt, minor_ticks=xm)
    p.yaxis.ticker = FixedTicker(ticks=yt, minor_ticks=ym)
    p.xaxis.major_label_overrides = {t: l for t, l in zip(xt, xl)}
    for ax in p.xaxis + p.yaxis:
        ax.major_tick_in = 0
        ax.major_tick_out = 4
        ax.major_tick_line_color = "#333333"
        ax.minor_tick_line_color = None
        ax.major_label_text_font = FONT
        ax.major_label_text_font_size = "15px"
        ax.major_label_text_color = "#4D4D4D"
        ax.axis_label_text_font = FONT
        ax.axis_label_text_font_size = "18px"
        ax.axis_label_text_font_style = "normal"
        ax.axis_label_text_color = "black"
        ax.major_label_standoff = 3
    p.xaxis.axis_label = "logFC"
    p.yaxis.axis_label = "-log10(p\u2212value)"
    p.xaxis.axis_label_standoff = 3
    p.yaxis.axis_label_standoff = 8
    for g in (p.xgrid, p.ygrid):
        g.grid_line_color = "#EBEBEB"
        g.grid_line_width = 1.2
        g.minor_grid_line_color = "#F5F5F5"
        g.minor_grid_line_width = 0.8
    p.title.text_font = "Lato"
    p.title.text_font_size = "20px"
    p.title.text_font_style = "normal"
    p.title.align = "left"
    p.title.standoff = 4


def add_legend(p, r_sig, r_ns, loc):
    leg = Legend(items=[LegendItem(label="FDR<0.2", renderers=[r_sig]),
                        LegendItem(label="Not Sig", renderers=[r_ns])],
                 location=loc, title="Significant")
    leg.title_text_font = FONT
    leg.title_text_font_style = "bold"
    leg.title_text_color = "#CD0000"
    leg.title_text_font_size = "20px"
    leg.title_standoff = 2
    leg.label_text_font = FONT
    leg.label_text_font_size = "18px"
    leg.label_text_color = "black"
    leg.label_standoff = 8
    leg.label_height = 20
    leg.glyph_height = 14
    leg.glyph_width = 14
    leg.spacing = 0
    leg.padding = 5
    leg.margin = 0
    leg.border_line_color = None
    leg.background_fill_color = "white"
    leg.background_fill_alpha = 1.0
    p.add_layout(leg)


# ---------------- Panel A ----------------
pa = figure(width=680, height=610, x_range=Range1d(-0.773, 0.843), y_range=Range1d(-0.24, 5.13),
            output_backend="svg", toolbar_location=None, title="(A)",
            min_border_left=53, min_border_right=17, min_border_top=36, min_border_bottom=50)
no_align(pa)
style_panel(pa, A_X_TICKS, A_X_LABELS, A_X_MINOR, A_Y_TICKS, A_Y_MINOR)
pa.title.offset = -33
pa.outline_line_color = "#6E6E6E"
pa.outline_line_width = 1.2
pa.xaxis.axis_line_color = None
pa.yaxis.axis_line_color = None

ax_ns, ay_ns = flatten(A_NS_POINTS, A_NS_CORE_ROWS)
ax_s, ay_s = flatten(A_SIG_POINTS, A_SIG_CORE_ROWS)
ra_ns = pa.scatter(ax_ns, ay_ns, size=6, color=NS_COLOR, alpha=0.6)
ra_s = pa.scatter(ax_s, ay_s, size=6, color=SIG_COLOR, alpha=0.6)

pa.segment(x0="x0", y0="y0", x1="x1", y1="y1", line_color="c", line_width=1.2,
           source=ColumnDataSource(dict(x0=A_SEG_X0, y0=A_SEG_Y0, x1=A_SEG_X1, y1=A_SEG_Y1, c=A_SEG_COLOR)))
pa.text(x="x", y="y", text="t", text_color="c", text_font=value(FONT), text_font_size="19px",
        text_align="left", text_baseline="middle",
        source=ColumnDataSource(dict(x=A_LABEL_X, y=A_LABEL_Y, t=A_LABEL_TEXT, c=A_LABEL_COLOR)))
add_legend(pa, ra_s, ra_ns, (3, 68))

# ---------------- Arrow annotation under A ----------------
pf = figure(frame_width=680, frame_height=53, x_range=Range1d(-0.9146, 0.8891), y_range=Range1d(0, 53),
            output_backend="svg", toolbar_location=None, min_border=0,
            min_border_left=0, min_border_right=0, min_border_top=0, min_border_bottom=0,
            x_axis_location=None, y_axis_location=None)
no_align(pf)
pf.grid.visible = False
pf.outline_line_color = None
pf.background_fill_color = "white"
pf.border_fill_color = "white"
pf.add_layout(Arrow(start=NormalHead(size=14, fill_color="black", line_color="black"),
                    end=NormalHead(size=14, fill_color="black", line_color="black"),
                    x_start=ARROW_X[0], y_start=ARROW_Y, x_end=ARROW_X[1], y_end=ARROW_Y,
                    line_width=3, line_color="black"))
pf.scatter(ARROW_DOT_X, [ARROW_Y], size=12, color="black")
pf.text(x="x", y="y", text="t", text_font=value("Lato"), text_font_size="20px", text_color="black",
        text_align="left", text_baseline="middle",
        source=ColumnDataSource(dict(x=ARROW_TEXT_X, y=ARROW_TEXT_Y, t=ARROW_TEXT)))

# ---------------- Panel B ----------------
pb = figure(width=668, height=610, x_range=Range1d(-1.06, 0.88), y_range=Range1d(-0.21, 4.51),
            output_backend="svg", toolbar_location=None, title="(B)",
            min_border_left=60, min_border_right=0, min_border_top=36, min_border_bottom=50)
no_align(pb)
style_panel(pb, B_X_TICKS, B_X_LABELS, B_X_MINOR, B_Y_TICKS, B_Y_MINOR)
pb.title.offset = -29
pb.outline_line_color = None
pb.xaxis.axis_line_color = "#6E6E6E"
pb.yaxis.axis_line_color = "#6E6E6E"
pb.xaxis.axis_line_width = 1.2
pb.yaxis.axis_line_width = 1.2
top_ax = LinearAxis(ticker=FixedTicker(ticks=[]), major_label_text_font_size="0px",
                    major_tick_line_color=None, minor_tick_line_color=None,
                    axis_line_color="#6E6E6E", axis_line_width=1.2, major_label_standoff=0)
pb.add_layout(top_ax, "above")

bx_ns, by_ns = flatten(B_NS_POINTS, B_NS_CORE_ROWS)
bx_s, by_s = flatten(B_SIG_POINTS)
rb_ns = pb.scatter(bx_ns, by_ns, size=6, color=NS_COLOR, alpha=0.6)
rb_s = pb.scatter(bx_s, by_s, size=6, color=SIG_COLOR, alpha=0.6)
pb.segment(x0="x0", y0="y0", x1="x1", y1="y1", line_color="black", line_width=1.2,
           source=ColumnDataSource(dict(x0=B_SEG_X0, y0=B_SEG_Y0, x1=B_SEG_X1, y1=B_SEG_Y1)))
pb.text(x="x", y="y", text="t", text_color="black", text_font=value(FONT), text_font_size="19px",
        text_align="left", text_baseline="middle",
        source=ColumnDataSource(dict(x=B_LABEL_X, y=B_LABEL_Y, t=B_LABEL_TEXT)))
add_legend(pb, rb_s, rb_ns, (2, 68))

layout = row(column(pa, pf, spacing=0), pb, spacing=0)
open("out.html", "w").write(file_html(layout, INLINE))
